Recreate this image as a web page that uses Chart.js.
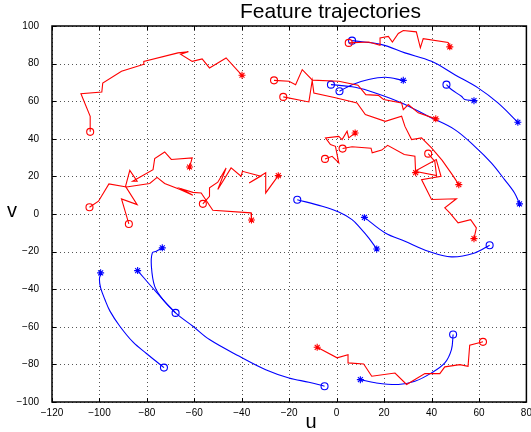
<!DOCTYPE html>
<html><head><meta charset="utf-8">
<script src="https://cdn.jsdelivr.net/npm/chart.js@4.4.0/dist/chart.umd.min.js"></script>
<style>html,body{margin:0;padding:0;background:#fff;}#wrap{width:531px;height:432px;}</style>
</head><body><div id="wrap"><canvas id="c" width="531" height="432"></canvas></div>
<script>
const xTickValues = [-120,-100,-80,-60,-40,-20,0,20,40,60,80];
const yTickValues = [-100,-80,-60,-40,-20,0,20,40,60,80,100];
const titleText = 'Feature trajectories';
const xLabel = 'u';
const yLabel = 'v';

// blue trajectories (first point = o, last point = *)
const blue1 = [[-72.8,-81.7],[-80.2,-74.2],[-85.8,-68.2],[-91.4,-59.7],[-95.5,-51.8],[-97.7,-45.5],[-99.5,-39.3],[-100,-34.9],[-99.5,-31.3]];
const blue2 = [[-67.9,-52.6],[-73.2,-45.5],[-76.7,-38.5],[-78.1,-27.8],[-77.7,-20.7],[-76,-19.8],[-73.5,-18]];
const blue3 = [[-5.1,-91.6],[-11.7,-89.5],[-20.1,-87.2],[-29.9,-82.8],[-41,-75.7],[-53.6,-66.8],[-60.6,-59.7],[-67.9,-52.6],[-76,-41.6],[-83.9,-30.1]];
const blue4 = [[-16.6,7.6],[-6.1,4.1],[0.9,1],[6.5,-3.0],[9.9,-7.4],[13.5,-12.7],[16.9,-18.6]];
const blue5 = [[64.5,-16.6],[58.2,-20.7],[48.4,-22.8],[38.6,-19.8],[28.8,-14.5],[20.5,-10.1],[11.7,-1.8]];
const blue6 = [[49.1,-64.1],[48.4,-72.1],[45.6,-79.2],[40,-84.5],[33,-89],[26,-90.7],[16.3,-89.8],[10,-88.1]];
const blue7 = [[6.5,92.2],[19,90.1],[28.8,85.7],[40,81.2],[49.8,74.1],[59.6,67.1],[68,59.1],[76.4,48.8]];
const blue8 = [[1.2,65.3],[6.5,68.8],[13.5,71.5],[20.5,72.7],[28.1,71.1]];
const blue9 = [[-2.4,68.8],[7.8,67.4],[16.3,64.4],[27.4,59.1],[38.6,52],[49.8,44.9],[58.2,36],[65.2,27.2],[70.8,18.3],[75,11.2],[77.1,5.4]];
const blue10 = [[46.3,68.8],[48.4,66.2],[52.6,62.6],[54,60.9],[57.9,60.3]];

// red trajectories
const red1 = [[-103.9,43.7],[-103.9,52],[-107.8,64],[-99,64.9],[-98.6,69.7],[-90.7,75.9],[-81.6,79.5],[-81.3,81.2],[-66.9,85.7],[-62.5,86.3],[-65.8,85],[-60.9,81.2],[-56.7,82.5],[-53.6,77.7],[-46.6,83],[-39.9,73.8]];
const red2 = [[-104.2,3.6],[-100.4,6.8],[-96,16],[-88.6,14.4],[-78.8,16.2],[-75.7,19.5],[-72.5,16.2],[-66,13],[-60.6,10],[-65.5,13.4],[-60.6,11.5],[-57.1,11.2],[-52.2,2],[-36.1,0.6],[-35.9,-3.2]];
const red3 = [[-87.6,-5.3],[-90.7,8],[-84.1,5],[-89,14.7],[-87.2,23.2],[-84.1,17.4],[-86,17.4],[-77.4,23.6],[-76.7,29.5],[-72.5,33],[-69.7,29],[-60.9,29.8],[-62,25]];
const red4 = [[-56.4,5.4],[-53.6,9.4],[-53.6,13.9],[-50.1,16.9],[-46.6,24.5],[-50.1,13],[-44.5,24.5],[-40.3,20.1],[-39.7,22.7],[-32,20.1],[-36.9,16.5],[-29.9,21.9],[-29.9,11.2],[-24.6,20.4]];
const red5 = [[-26.4,71.1],[-20.1,70.6],[-17.3,68.8],[-14.5,76.8],[-10.2,71.2],[0.9,70.6],[9,68.5],[12.3,63.5],[17.6,63.1],[19.8,60.9],[27.4,59.1],[28.1,55.5],[30.2,58.2],[34.4,53.8],[41.8,50.6]];
const red6 = [[-22.5,62.3],[-11.7,59.6],[-10.3,71],[-9.6,64.4],[-0.5,61.8],[8.6,59.1],[12.1,52.9],[20.5,49.3],[27.4,52],[28.8,46.6],[31.6,39.6],[35.8,40.5],[40,35.2],[44.5,28.5],[49.1,20.3],[51.5,15.6]];
const red7 = [[5.1,91],[13.5,91.5],[18.3,89.7],[18.3,93.7],[21.8,94.5],[23.5,91.5],[26,96],[28.1,97.6],[33.6,96.9],[35.3,88.4],[36.5,93.3],[47,91.2],[47.7,88.9]];
const red8 = [[-4.9,29.3],[-1.9,30.7],[0.9,27.2],[-0.5,36],[-2.6,36.9],[-4.7,40.5],[0.9,41.3],[2.3,39.6],[4.4,44],[5.1,40.5],[7.8,43.1]];
const red9 = [[2.5,34.8],[6.5,35.8],[14.5,35],[15,32.5],[19,34],[21.5,36.5],[28.5,31.6],[33,30.7],[33.3,22]];
const red10 = [[38.6,32.1],[41.4,28],[42.1,20.5],[33,22.7],[42,29],[44,20],[35.8,18.3],[40,7.7],[50.5,8.1],[45.6,3.3],[47.7,0.6],[51.2,-4.7],[56.5,-3],[58.9,-7.4],[57.9,-13.1]];
const red11 = [[61.7,-68],[56.1,-69.8],[55.4,-81],[51.9,-80.1],[45.6,-81.3],[43.5,-84.9],[37.2,-84.9],[29.5,-90.7],[24.6,-84.6],[14.8,-86.3],[11.4,-79.8],[4.8,-79.2],[4.8,-74.8],[0.2,-76.5],[-8.2,-70.9]];

const blueTracks = [blue1,blue2,blue3,blue4,blue5,blue6,blue7,blue8,blue9,blue10];
const redTracks = [red1,red2,red3,red4,red5,red6,red7,red8,red9,red10,red11];

const FONT = "'Liberation Sans', Arial, Helvetica, sans-serif";
const RED = '#ff0000', BLUE = '#0000ff';

function makeDataset(track, color, smooth) {
  const n = track.length;
  return {
    data: track.map(p => ({x: p[0], y: p[1]})),
    showLine: true,
    borderColor: color,
    borderWidth: 1.1,
    tension: smooth ? 0.35 : 0,
    pointStyle: ctx => ctx.dataIndex === 0 ? 'circle' : 'star',
    pointRadius: ctx => (ctx.dataIndex === 0 || ctx.dataIndex === n - 1) ? 3.5 : 0,
    pointHoverRadius: 0,
    pointBorderColor: color,
    pointBackgroundColor: 'rgba(0,0,0,0)',
    pointBorderWidth: 1.1
  };
}

const datasets = [
  ...redTracks.map(t => makeDataset(t, RED, false)),
  ...blueTracks.map(t => makeDataset(t, BLUE, true))
];

function fmt(v) { return v < 0 ? '\u2212' + Math.abs(v) : String(v); }

const deco = {
  id: 'deco',
  beforeDatasetsDraw(chart) {
    const {ctx, chartArea: a, scales: {x, y}} = chart;
    ctx.save();
    ctx.strokeStyle = '#555';
    ctx.lineWidth = 1;
    ctx.setLineDash([1, 3]);
    for (const v of xTickValues) {
      const px = Math.round(x.getPixelForValue(v)) + 0.5;
      ctx.beginPath(); ctx.moveTo(px, a.top); ctx.lineTo(px, a.bottom); ctx.stroke();
    }
    for (const v of yTickValues) {
      const py = Math.round(y.getPixelForValue(v)) + 0.5;
      ctx.beginPath(); ctx.moveTo(a.left, py); ctx.lineTo(a.right, py); ctx.stroke();
    }
    ctx.restore();
  },
  afterDraw(chart) {
    const {ctx, chartArea: a, scales: {x, y}} = chart;
    ctx.save();
    ctx.strokeStyle = '#000';
    ctx.lineWidth = 1.5;
    ctx.setLineDash([]);
    ctx.strokeRect(a.left, a.top, a.right - a.left, a.bottom - a.top);
    ctx.lineWidth = 1;
    const tl = 4;
    for (const v of xTickValues) {
      const px = Math.round(x.getPixelForValue(v)) + 0.5;
      ctx.beginPath();
      ctx.moveTo(px, a.bottom); ctx.lineTo(px, a.bottom - tl);
      ctx.moveTo(px, a.top); ctx.lineTo(px, a.top + tl);
      ctx.stroke();
    }
    for (const v of yTickValues) {
      const py = Math.round(y.getPixelForValue(v)) + 0.5;
      ctx.beginPath();
      ctx.moveTo(a.left, py); ctx.lineTo(a.left + tl, py);
      ctx.moveTo(a.right, py); ctx.lineTo(a.right - tl, py);
      ctx.stroke();
    }
    ctx.fillStyle = '#000';
    ctx.textAlign = 'center';
    ctx.textBaseline = 'alphabetic';
    ctx.font = '21px ' + FONT;
    ctx.fillText(titleText, 330.5, 18);
    ctx.font = '20px ' + FONT;
    ctx.fillText(xLabel, 311, 428);
    ctx.fillText(yLabel, 12, 217);
    ctx.restore();
  }
};

new Chart(document.getElementById('c'), {
  type: 'scatter',
  data: { datasets },
  options: {
    responsive: false,
    animation: false,
    events: [],
    layout: { padding: { top: 26, right: 2, left: 0, bottom: 0 } },
    plugins: { legend: { display: false }, tooltip: { enabled: false }, title: { display: false } },
    scales: {
      x: {
        type: 'linear', min: -120, max: 80,
        afterBuildTicks: s => { s.ticks = xTickValues.map(v => ({value: v})); },
        afterFit: s => { s.height = 30; },
        grid: { display: false },
        border: { display: false },
        ticks: { callback: v => fmt(v), color: '#000', font: { family: FONT, size: 10 }, padding: -3, maxRotation: 0, autoSkip: false }
      },
      y: {
        type: 'linear', min: -100, max: 100,
        afterBuildTicks: s => { s.ticks = yTickValues.map(v => ({value: v})); },
        afterFit: s => { s.width = 52; },
        grid: { display: false },
        border: { display: false },
        ticks: { callback: v => fmt(v), color: '#000', font: { family: FONT, size: 10 }, padding: 5, autoSkip: false }
      }
    }
  },
  plugins: [deco]
});
</script>
</body></html>
